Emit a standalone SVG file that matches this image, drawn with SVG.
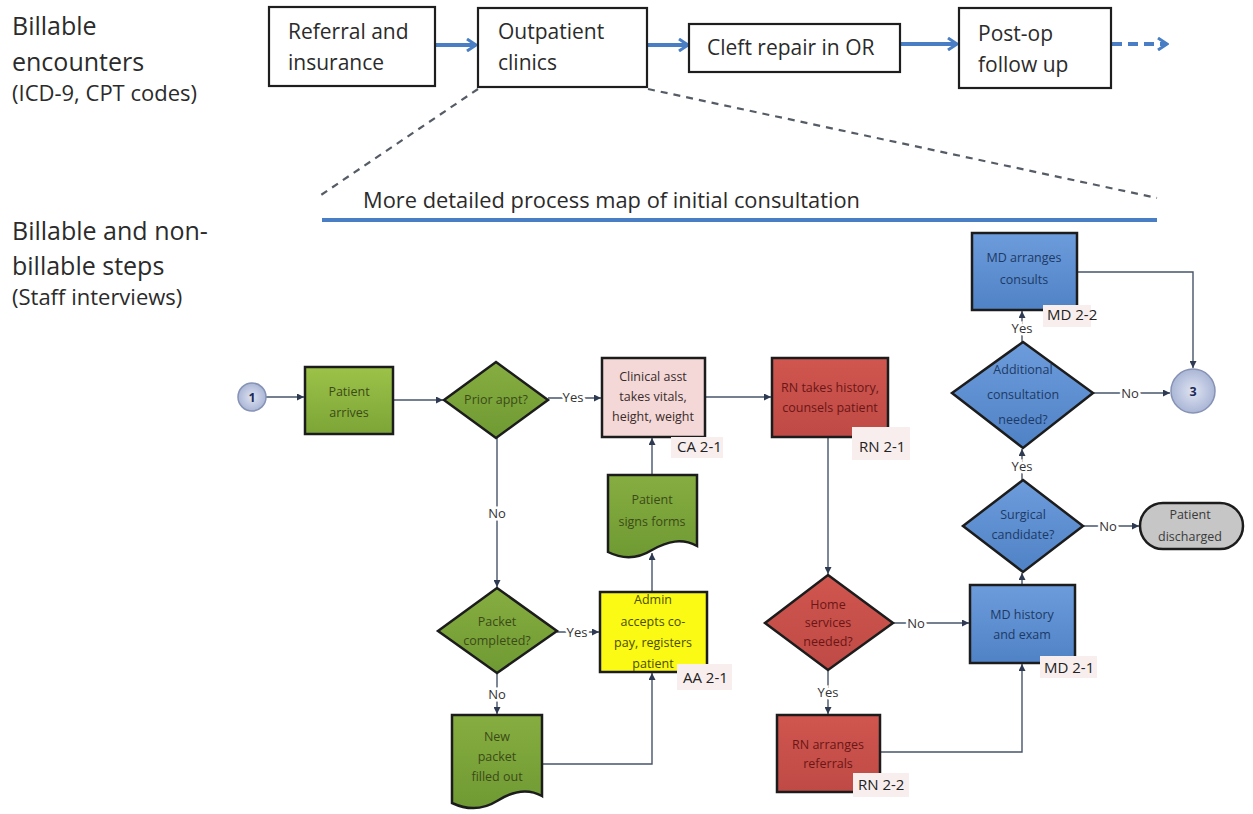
<svg xmlns="http://www.w3.org/2000/svg" width="1253" height="814" viewBox="0 0 1253 814">
<defs>
<style>
.t{font-family:"Open Sans","Liberation Sans",sans-serif;fill:#2b2b2b}
.big{font-size:25px}
.sub{font-size:22px}
.top{font-size:21px}
.topbox{fill:#fff;stroke:#1e1e1e;stroke-width:2.2}
.blue{stroke:#4a7ec4;stroke-width:4;fill:none}
.dash{stroke:#555c66;stroke-width:2.2;fill:none;stroke-dasharray:7 6}
.con{stroke:#46546a;stroke-width:1.4;fill:none}
.n{font-family:"Open Sans","Liberation Sans",sans-serif;font-size:12.5px;text-anchor:middle}
.yn{font-family:"Open Sans","Liberation Sans",sans-serif;font-size:13px;fill:#333;text-anchor:middle;stroke:#fff;stroke-width:5;paint-order:stroke;dominant-baseline:central}
.code{font-family:"Open Sans","Liberation Sans",sans-serif;font-size:15px;fill:#222}
.codebg{fill:#f8eeee}
.sh{stroke:#1c1c1c;stroke-width:2.5}
.g{fill:url(#gg)}
.gd{fill:url(#gd)}
.pk{fill:#f3d8d7}
.rd{fill:url(#gr)}
.bl{fill:url(#gb)}
.ye{fill:#fafa14}
.gy{fill:#c6c6c6}
.tg{fill:#3c4a18}
.tr{fill:#6a1616}
.tb{fill:#1d3a66}
.tp{fill:#3a2b2b}
.ty{fill:#4d4d00}
.tgy{fill:#3a3a3a}
</style>
<linearGradient id="gg" x1="0" y1="0" x2="0" y2="1"><stop offset="0" stop-color="#9cc248"/><stop offset="1" stop-color="#7ca537"/></linearGradient>
<linearGradient id="gd" x1="0" y1="0" x2="0" y2="1"><stop offset="0" stop-color="#86ad40"/><stop offset="1" stop-color="#6f9a33"/></linearGradient>
<linearGradient id="gr" x1="0" y1="0" x2="0" y2="1"><stop offset="0" stop-color="#d0564f"/><stop offset="1" stop-color="#bf4a45"/></linearGradient>
<linearGradient id="gb" x1="0" y1="0" x2="0" y2="1"><stop offset="0" stop-color="#6d9cdb"/><stop offset="1" stop-color="#4f82c6"/></linearGradient>
<radialGradient id="gc"><stop offset="0" stop-color="#dfe4f2"/><stop offset="1" stop-color="#aab6d6"/></radialGradient>
<marker id="ah" viewBox="0 0 8 8" refX="8" refY="4" markerWidth="7" markerHeight="7" markerUnits="userSpaceOnUse" orient="auto"><path d="M0,0 L8,4 L0,8 Z" fill="#2e3a52"/></marker>
<marker id="bh" viewBox="0 0 12 14" refX="10" refY="7" markerWidth="12" markerHeight="14" markerUnits="userSpaceOnUse" orient="auto"><path d="M1,1 L10,7 L1,13" fill="none" stroke="#4a7ec4" stroke-width="3"/></marker>
</defs>
<rect width="1253" height="814" fill="#fff"/>

<g id="side-labels">
<text class="t big" x="12" y="35">Billable</text>
<text class="t big" x="12" y="71">encounters</text>
<text class="t sub" x="12" y="101">(ICD-9, CPT codes)</text>
<text class="t big" x="12" y="240">Billable and non-</text>
<text class="t big" x="12" y="275">billable steps</text>
<text class="t sub" x="12" y="305">(Staff interviews)</text>
</g>

<g id="top-connectors">
<line class="blue" x1="436" y1="45" x2="476" y2="45" marker-end="url(#bh)"/>
<line class="blue" x1="648" y1="45" x2="688" y2="45" marker-end="url(#bh)"/>
<line class="blue" x1="901" y1="44" x2="957" y2="44" marker-end="url(#bh)"/>
<line class="blue" x1="1112" y1="44" x2="1167" y2="44" stroke-dasharray="10 6" marker-end="url(#bh)"/>
<line class="dash" x1="478" y1="89" x2="318" y2="197"/>
<line class="dash" x1="648" y1="89" x2="1157" y2="198"/>
</g>

<g id="top-referral"><rect class="topbox" x="269" y="7" width="166" height="79"/>
<text class="t top" x="288" y="39">Referral and</text><text class="t top" x="288" y="70">insurance</text></g>
<g id="top-outpatient"><rect class="topbox" x="478" y="8" width="169" height="79"/>
<text class="t top" x="498" y="39">Outpatient</text><text class="t top" x="498" y="70">clinics</text></g>
<g id="top-cleft"><rect class="topbox" x="689" y="24" width="211" height="48"/>
<text class="t top" x="707" y="55">Cleft repair in OR</text></g>
<g id="top-postop"><rect class="topbox" x="959" y="8" width="152" height="80"/>
<text class="t top" x="978" y="41">Post-op</text><text class="t top" x="978" y="72">follow up</text></g>

<g id="detail-title">
<text class="t" x="363" y="208" font-size="21px" textLength="497" lengthAdjust="spacingAndGlyphs">More detailed process map of initial consultation</text>
<line x1="322" y1="220" x2="1157" y2="220" stroke="#4a7ec4" stroke-width="4"/>
</g>

<g id="connectors">
<line class="con" x1="266" y1="397" x2="304" y2="397" marker-end="url(#ah)"/>
<line class="con" x1="394" y1="400" x2="443" y2="400" marker-end="url(#ah)"/>
<line class="con" x1="548" y1="398" x2="601" y2="398" marker-end="url(#ah)"/>
<text class="yn" x="573" y="397">Yes</text>
<line class="con" x1="706" y1="397" x2="771" y2="397" marker-end="url(#ah)"/>
<line class="con" x1="497" y1="438" x2="497" y2="587" marker-end="url(#ah)"/>
<text class="yn" x="497" y="513">No</text>
<line class="con" x1="557" y1="632" x2="599" y2="632" marker-end="url(#ah)"/>
<text class="yn" x="577" y="632">Yes</text>
<line class="con" x1="497" y1="673" x2="497" y2="714" marker-end="url(#ah)"/>
<text class="yn" x="497" y="694">No</text>
<polyline class="con" points="542,764 652,764 652,673" marker-end="url(#ah)"/>
<line class="con" x1="652" y1="592" x2="652" y2="553" marker-end="url(#ah)"/>
<line class="con" x1="652" y1="475" x2="652" y2="438" marker-end="url(#ah)"/>
<line class="con" x1="828" y1="438" x2="828" y2="574" marker-end="url(#ah)"/>
<line class="con" x1="893" y1="623" x2="969" y2="623" marker-end="url(#ah)"/>
<text class="yn" x="916" y="623">No</text>
<line class="con" x1="828" y1="670" x2="828" y2="714" marker-end="url(#ah)"/>
<text class="yn" x="828" y="692">Yes</text>
<polyline class="con" points="880,752 1022,752 1022,664" marker-end="url(#ah)"/>
<line class="con" x1="1022" y1="585" x2="1022" y2="573" marker-end="url(#ah)"/>
<line class="con" x1="1083" y1="526" x2="1139" y2="526" marker-end="url(#ah)"/>
<text class="yn" x="1108" y="526">No</text>
<line class="con" x1="1022" y1="480" x2="1022" y2="449" marker-end="url(#ah)"/>
<text class="yn" x="1022" y="466">Yes</text>
<line class="con" x1="1093" y1="393" x2="1170" y2="393" marker-end="url(#ah)"/>
<text class="yn" x="1130" y="393">No</text>
<line class="con" x1="1022" y1="342" x2="1022" y2="311" marker-end="url(#ah)"/>
<text class="yn" x="1022" y="328">Yes</text>
<polyline class="con" points="1078,272 1193,272 1193,368" marker-end="url(#ah)"/>
</g>

<g id="start-1"><circle cx="252" cy="397" r="14" fill="url(#gc)" stroke="#8793b5" stroke-width="1.5"/>
<text class="n" x="252" y="402" fill="#1d2a55" font-weight="bold" font-size="12px">1</text></g>

<g id="patient-arrives"><rect class="g sh" x="305" y="367" width="88" height="67"/>
<text class="n tg" x="349" y="396">Patient</text><text class="n tg" x="349" y="417">arrives</text></g>

<g id="prior-appt"><polygon class="gd sh" points="496,362 548,400 496,438 444,400"/>
<text class="n tg" x="496" y="404">Prior appt?</text></g>

<g id="clinical-asst"><rect class="pk sh" x="602" y="358" width="103" height="79"/>
<rect class="codebg" x="671" y="437" width="52" height="21"/>
<text class="n tp" x="653" y="381">Clinical asst</text><text class="n tp" x="653" y="401">takes vitals,</text><text class="n tp" x="653" y="421">height, weight</text>
<text class="code" x="677" y="452">CA 2-1</text></g>

<g id="rn-history"><rect class="rd sh" x="772" y="358" width="116" height="79"/>
<rect class="codebg" x="852" y="427" width="58" height="33"/>
<text class="n tr" x="830" y="392">RN takes history,</text><text class="n tr" x="830" y="412">counsels patient</text>
<text class="code" x="859" y="452">RN 2-1</text></g>

<g id="patient-signs"><path class="gd sh" d="M608,475 H697 V546 C682,538 668,541 652,550 C636,560 620,558 608,552 Z"/>
<text class="n tg" x="652" y="504">Patient</text><text class="n tg" x="652" y="526">signs forms</text></g>

<g id="packet-completed"><polygon class="gd sh" points="497,588 557,631 497,673 438,631"/>
<text class="n tg" x="497" y="626">Packet</text><text class="n tg" x="497" y="645">completed?</text></g>

<g id="admin"><rect class="ye sh" x="600" y="592" width="107" height="80"/>
<rect class="codebg" x="677" y="664" width="55" height="26"/>
<text class="n ty" x="653" y="604">Admin</text><text class="n ty" x="653" y="626">accepts co-</text><text class="n ty" x="653" y="647">pay, registers</text><text class="n ty" x="653" y="668">patient</text>
<text class="code" x="683" y="683">AA 2-1</text></g>

<g id="new-packet"><path class="gd sh" d="M452,715 H542 V796 C526,787 511,792 497,801 C481,811 465,809 452,803 Z"/>
<text class="n tg" x="497" y="741">New</text><text class="n tg" x="497" y="761">packet</text><text class="n tg" x="497" y="781">filled out</text></g>

<g id="home-services"><polygon class="rd sh" points="828,575 893,623 828,670 765,623"/>
<text class="n tr" x="828" y="609">Home</text><text class="n tr" x="828" y="627">services</text><text class="n tr" x="828" y="646">needed?</text></g>

<g id="rn-referrals"><rect class="rd sh" x="777" y="715" width="103" height="77"/>
<rect class="codebg" x="853" y="773" width="56" height="24"/>
<text class="n tr" x="828" y="749">RN arranges</text><text class="n tr" x="828" y="768">referrals</text>
<text class="code" x="858" y="790">RN 2-2</text></g>

<g id="md-history"><rect class="bl sh" x="970" y="585" width="105" height="78"/>
<rect class="codebg" x="1040" y="656" width="57" height="22"/>
<text class="n tb" x="1022" y="619">MD history</text><text class="n tb" x="1022" y="639">and exam</text>
<text class="code" x="1044" y="673">MD 2-1</text></g>

<g id="surgical-candidate"><polygon class="bl sh" points="1023,480 1083,526 1023,572 963,526"/>
<text class="n tb" x="1023" y="519">Surgical</text><text class="n tb" x="1023" y="539">candidate?</text></g>

<g id="patient-discharged"><rect class="gy sh" x="1140" y="503" width="103" height="46" rx="23"/>
<text class="n tgy" x="1190" y="519">Patient</text><text class="n tgy" x="1190" y="541">discharged</text></g>

<g id="additional-consultation"><polygon class="bl sh" points="1023,342 1093,393 1023,448 952,393"/>
<text class="n tb" x="1023" y="374">Additional</text><text class="n tb" x="1023" y="399">consultation</text><text class="n tb" x="1023" y="424">needed?</text></g>

<g id="md-consults"><rect class="bl sh" x="972" y="233" width="105" height="77"/>
<rect class="codebg" x="1043" y="305" width="48" height="22"/>
<text class="n tb" x="1024" y="262">MD arranges</text><text class="n tb" x="1024" y="284">consults</text>
<text class="code" x="1047" y="320" font-size="14px">MD 2-2</text></g>

<g id="end-3"><circle cx="1193" cy="391" r="22" fill="url(#gc)" stroke="#8793b5" stroke-width="1.5"/>
<text class="n" x="1193" y="396" fill="#1d2a55" font-weight="bold" font-size="13px">3</text></g>
</svg>
